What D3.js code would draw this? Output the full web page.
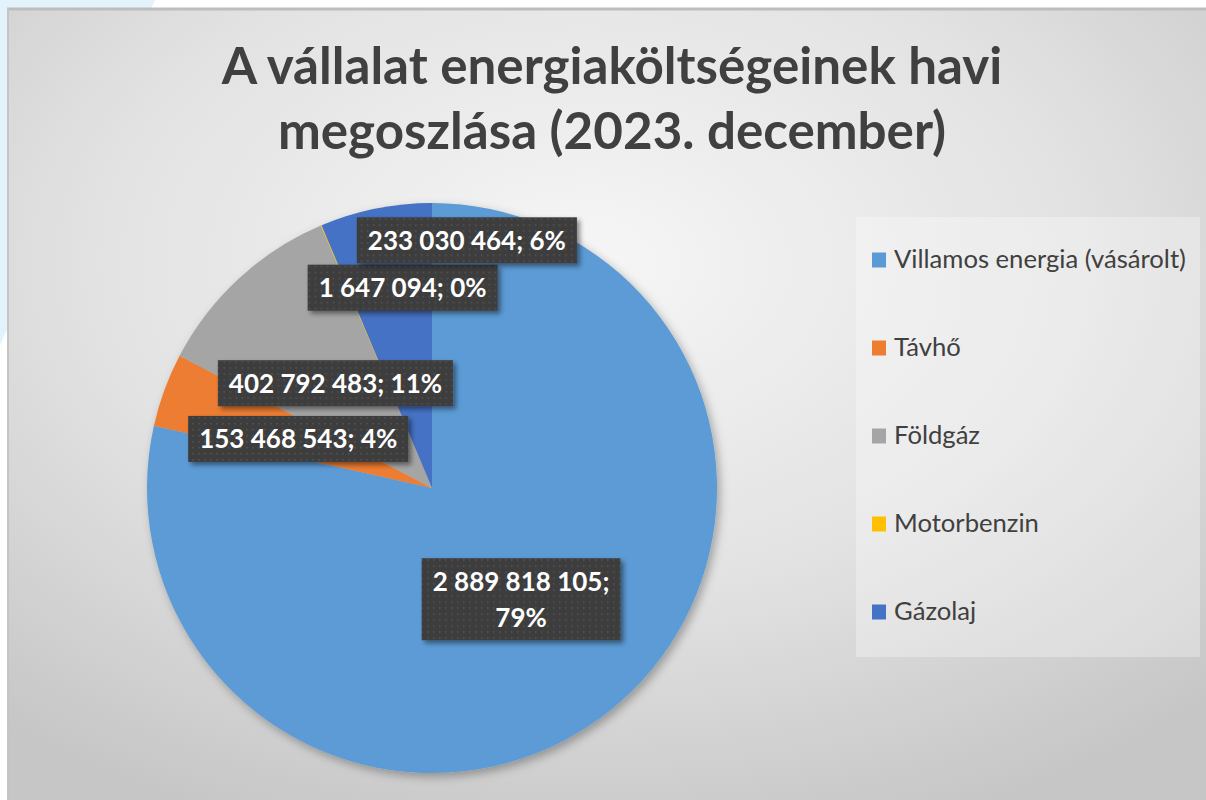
<!DOCTYPE html>
<html lang="hu">
<head>
<meta charset="UTF-8">
<title>Energiaköltségek megoszlása</title>
<script src="https://d3js.org/d3.v7.min.js"></script>
<style>
    body { margin: 0; background: #ffffff; overflow: hidden; }
    svg { display: block; font-family: 'Lato', 'Noto Sans', sans-serif; }
</style>
</head>
<body>
<svg id="chart" width="1206" height="800"></svg>
<script>
// --- adatok ---
const categories = ["Villamos energia (vásárolt)", "Távhő", "Földgáz", "Motorbenzin", "Gázolaj"];
const costs = [2889818105, 153468543, 402792483, 1647094, 233030464];
const sliceColors = ["#5b9bd5", "#ed7d31", "#a5a5a5", "#ffc000", "#4472c4"];
const titleLines = ["A vállalat energiaköltségeinek havi", "megoszlása (2023. december)"];

// feliratok kézi eltolása (mint Excelben áthúzott címkék)
const labelNudge = { "Motorbenzin": [26, -69], "Gázolaj": [63, -108] };

const W = 1206, H = 800;
const svg = d3.select("#chart");
const defs = svg.append("defs");

// háttér
const bg = defs.append("radialGradient").attr("id", "bgGrad")
    .attr("cx", "48%").attr("cy", "32%").attr("r", "75%");
bg.append("stop").attr("offset", "0%").attr("stop-color", "#f6f6f6");
bg.append("stop").attr("offset", "55%").attr("stop-color", "#e2e2e2");
bg.append("stop").attr("offset", "100%").attr("stop-color", "#c6c6c6");

const pieShadow = defs.append("filter").attr("id", "pieShadow")
    .attr("x", "-20%").attr("y", "-20%").attr("width", "140%").attr("height", "140%");
pieShadow.append("feDropShadow").attr("dx", 3).attr("dy", 4).attr("stdDeviation", 5)
    .attr("flood-color", "#000").attr("flood-opacity", 0.3);

const boxShadow = defs.append("filter").attr("id", "boxShadow")
    .attr("x", "-20%").attr("y", "-30%").attr("width", "140%").attr("height", "170%");
boxShadow.append("feDropShadow").attr("dx", 3).attr("dy", 3).attr("stdDeviation", 2.5)
    .attr("flood-color", "#000").attr("flood-opacity", 0.45);

const dots = defs.append("pattern").attr("id", "dots")
    .attr("width", 6).attr("height", 6).attr("patternUnits", "userSpaceOnUse");
dots.append("rect").attr("width", 6).attr("height", 6).attr("fill", "#3d3d3d");
dots.append("rect").attr("x", 2).attr("y", 2).attr("width", 1.5).attr("height", 1.5).attr("fill", "#555555");

// dia dekoráció a bal felső sarokban
svg.append("path").attr("d", "M0,0 L155,0 L0,345 Z").attr("fill", "#e2f3fb");

// diagramterület
svg.append("rect").attr("x", 7).attr("y", 8).attr("width", W).attr("height", H)
    .attr("fill", "url(#bgGrad)");
svg.append("line").attr("x1", 7).attr("x2", W).attr("y1", 9).attr("y2", 9)
    .attr("stroke", "#bdbdbd").attr("stroke-width", 3);
svg.append("line").attr("x1", 8).attr("x2", 8).attr("y1", 8).attr("y2", H)
    .attr("stroke", "#c4c4c4").attr("stroke-width", 2);

// cím
const title = svg.append("text").attr("text-anchor", "middle")
    .attr("fill", "#404040").attr("font-weight", 700).attr("font-size", 44);
title.selectAll("tspan").data(titleLines).join("tspan")
    .attr("x", 612).attr("y", (d, i) => 84 + i * 65).text(d => d);
const firstLine = title.select("tspan").node().getComputedTextLength();
title.attr("font-size", 44 * 781 / firstLine);

// kör
const cx = 432, cy = 488, R = 285;
const total = d3.sum(costs);
const pie = d3.pie().sort(null).value(d => d.value);
const arcs = pie(categories.map((c, i) => ({ name: c, value: costs[i], color: sliceColors[i] })));
const arc = d3.arc().innerRadius(0).outerRadius(R);

const g = svg.append("g").attr("transform", `translate(${cx},${cy})`);
g.append("g").attr("filter", "url(#pieShadow)")
    .selectAll("path").data(arcs).join("path")
    .attr("d", arc)
    .attr("fill", d => d.data.color);

// adatfeliratok
const fmtNum = v => d3.format(",")(v).replace(/,/g, " ");
const fmtPct = d3.format(".0%");
const labels = g.append("g");
arcs.forEach(d => {
    const full = `${fmtNum(d.data.value)}; ${fmtPct(d.data.value / total)}`;
    const lines = full.length > 17 ? [fmtNum(d.data.value) + ";", fmtPct(d.data.value / total)] : [full];
    let [x, y] = arc.centroid(d);
    const nudge = labelNudge[d.data.name];
    if (nudge) { x += nudge[0]; y += nudge[1]; }

    const lab = labels.append("g").attr("transform", `translate(${x},${y})`);
    const box = lab.append("rect").attr("fill", "url(#dots)").attr("filter", "url(#boxShadow)");
    const lineH = 36;
    const txt = lab.append("text").attr("text-anchor", "middle").attr("fill", "#ffffff")
        .attr("font-weight", 700).attr("font-size", 26);
    txt.selectAll("tspan").data(lines).join("tspan")
        .attr("x", 0)
        .attr("y", (t, i) => 9.5 + (i - (lines.length - 1) / 2) * lineH)
        .text(t => t);
    const bw = txt.node().getBBox().width + 22;
    const bh = 46 + (lines.length - 1) * lineH;
    box.attr("x", -bw / 2).attr("y", -bh / 2).attr("width", bw).attr("height", bh);
});

// jelmagyarázat
const legend = svg.append("g");
legend.append("rect").attr("x", 856).attr("y", 217).attr("width", 344).attr("height", 440)
    .attr("fill", "#ffffff").attr("fill-opacity", 0.3);
const legendY = d3.scalePoint().domain(categories).range([260, 612]);
const items = legend.selectAll("g.item").data(categories).join("g")
    .attr("class", "item")
    .attr("transform", d => `translate(872,${legendY(d)})`);
items.append("rect").attr("x", 0).attr("y", -7.5).attr("width", 14).attr("height", 15)
    .attr("fill", (d, i) => sliceColors[i]);
const legText = items.append("text").attr("x", 22).attr("y", 8)
    .attr("fill", "#404040").attr("font-size", 22).text(d => d);
const longest = legText.nodes()[0].getComputedTextLength();
legText.attr("font-size", 22 * 292 / longest);
</script>
</body>
</html>
